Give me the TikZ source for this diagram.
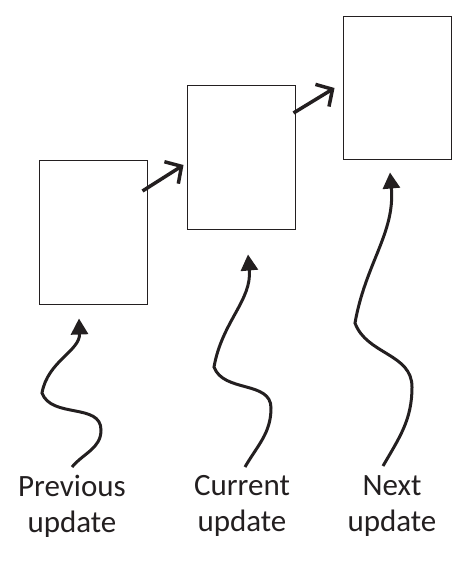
\documentclass[tikz,border=0pt]{standalone}
\usepackage{fontspec}
\setmainfont{Carlito}
\usetikzlibrary{arrows.meta,positioning}
\definecolor{ink}{RGB}{35,31,32}

\begin{document}
\begin{tikzpicture}[x=1pt,y=1pt,color=ink]%
        \useasboundingbox (0,0) rectangle (470,-561); %%
        \begin{scope}
            \tikzstyle{every node}=[draw,line width=1pt,inner sep=0pt,minimum width=108pt,minimum height=143pt];%%
            \node (prevbox) at (93,-232.5)  {}; %%
            \node (currbox) at (241,-157.5)  {}; %%
            \node (nextbox) at (397,-88.5)  {}; %%
        \end{scope}
        \begin{scope}
            \tikzstyle{every node}=[anchor=north,align=center,inner sep=0pt,font=\fontsize{31}{36}\selectfont];%%
            \node (prev) at (72,-475)  {Previous\\update}; %%
            \node (curr) at (242,-475)  {Current\\update}; %%
            \node (next) at (392,-475)  {Next\\update}; %%
        \end{scope}
        \coordinate (prevtip) at ([shift={(-14,-14)}]prevbox.south); %%
        \coordinate (currtip) at ([shift={(7,-25)}]currbox.south); %%
        \coordinate (nexttip) at ([shift={(-7,-12)}]nextbox.south); %%
        \tikzstyle{jump}=[line width=3.5pt,-{Straight Barb[length=12pt,width=26pt]}]
        \tikzstyle{wiggle}=[line width=3pt,-{Triangle[length=16pt,width=17pt]}]
        \draw[jump] ([shift={(-5,41.5)}]prevbox.east)--([shift={(-3,-7.5)}]currbox.west); %%
        \draw[jump] ([shift={(-2,44.5)}]currbox.east)--([shift={(-8,0.5)}]nextbox.west); %%
        \draw[wiggle] ([yshift=8]prev.north) to[out=50,in=-90] (101,-430) to[out=90,in=-70] (42,-393) to[out=80,in=-88] (prevtip); %%
        \draw[wiggle] ([shift={(3,8)}]curr.north) to[out=60,in=-90] (271,-408) to[out=90,in=-70] (214,-367) to[out=80,in=-85] (currtip); %%
        \draw[wiggle] ([shift={(-9,9)}]next.north) to[out=60,in=-90] (412,-387) to[out=90,in=-70] (355,-323) to[out=80,in=-85] (nexttip); %%
\end{tikzpicture}
\end{document}
